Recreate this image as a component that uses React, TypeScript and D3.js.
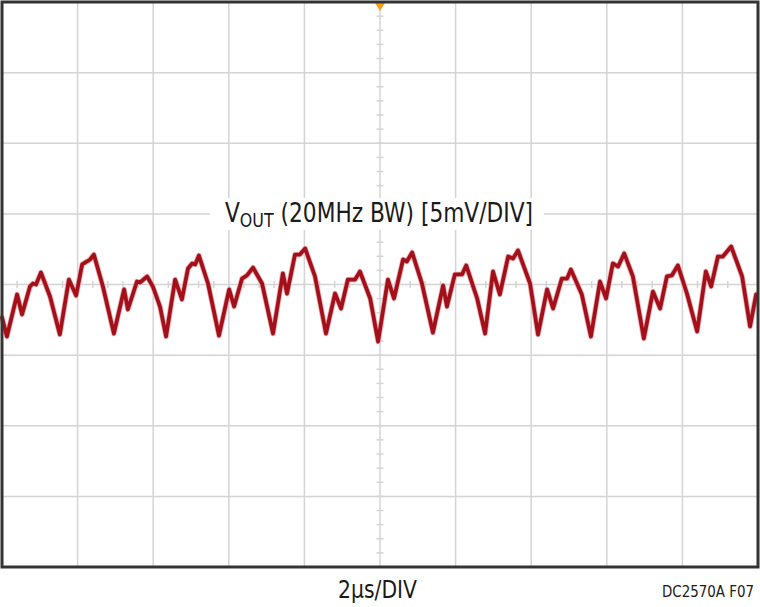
import React from "react";
import * as d3 from "d3";

// Time (µs, trigger at 0) and voltage (mV) readings of the VOUT ripple trace
const timeUs: number[] = [
  -10.0, -9.87, -9.6, -9.47, -9.26, -9.18, -9.1, -8.97, -8.73, -8.47, -8.23, -8.04, -7.88, -7.75, -7.67, -7.57,
  -7.33, -7.04, -6.77, -6.67, -6.43, -6.35, -6.16, -6.01, -5.82, -5.66, -5.42, -5.24, -5.08, -4.97, -4.89, -4.79,
  -4.55, -4.26, -3.99, -3.86, -3.65, -3.52, -3.36, -3.12, -2.83, -2.57, -2.46, -2.25, -2.12, -1.98, -1.72, -1.43,
  -1.19, -1.03, -0.85, -0.66, -0.53, -0.26, -0.05, 0.21, 0.37, 0.61, 0.71, 0.85, 1.11, 1.4, 1.67, 1.77,
  1.98, 2.17, 2.28, 2.57, 2.78, 2.99, 3.17, 3.39, 3.52, 3.65, 3.97, 4.18, 4.42, 4.58, 4.81, 4.95,
  5.05, 5.34, 5.58, 5.82, 5.98, 6.16, 6.3, 6.46, 6.69, 6.98, 7.22, 7.41, 7.59, 7.72, 7.88, 8.12,
  8.39, 8.62, 8.76, 8.94, 9.07, 9.29, 9.58, 9.79, 9.95,
];
const voutMv: number[] = [
  -2.34, -3.68, -0.71, -2.12, -0.14, 0.07, 0.0, 0.85, -0.85, -3.54, 0.35, -0.78, 1.42, 1.63, 1.77, 2.12,
  -0.14, -3.47, -0.35, -1.77, 0.21, 0.14, 0.57, -0.14, -1.56, -3.68, 0.35, -1.06, 1.13, 1.49, 1.42, 2.05,
  0.07, -3.61, -0.35, -1.56, 0.42, 0.64, 1.2, 0.07, -3.47, 0.78, -0.64, 2.12, 2.12, 2.55, 0.57, -3.47,
  -0.64, -1.7, 0.35, 0.35, 0.92, -0.99, -4.04, 0.35, -0.99, 1.77, 1.63, 2.27, 0.07, -3.4, -0.07, -1.56,
  0.71, 0.71, 1.35, -0.99, -3.47, 0.92, -0.71, 1.98, 1.84, 2.41, 0.07, -3.54, -0.35, -1.7, 0.42, 0.42,
  1.06, -0.71, -3.68, 0.21, -0.99, 1.49, 1.27, 2.2, 0.57, -3.82, -0.5, -1.7, 0.57, 0.64, 1.35, -0.64,
  -3.33, 0.92, -0.14, 1.98, 1.98, 2.69, 0.57, -2.97, -0.71,
];

const xDivisions = 10;
const yDivisions = 8;
const usPerDiv = 2;
const mvPerDiv = 5;
const titleMain = "V";
const titleSub = "OUT";
const titleRest = " (20MHz BW) [5mV/DIV]";
const xLabel = "2µs/DIV";
const figLabel = "DC2570A F07";

const W = 760;
const H = 607;
const left = 2;
const right = 758;
const top = 2;
const bottom = 567;
const FONT = "'Liberation Sans Narrow', 'DejaVu Sans Condensed', 'Liberation Sans', sans-serif";

export default function App() {
  const x = d3
    .scaleLinear()
    .domain([(-xDivisions / 2) * usPerDiv, (xDivisions / 2) * usPerDiv])
    .range([left, right]);
  const y = d3
    .scaleLinear()
    .domain([(-yDivisions / 2) * mvPerDiv, (yDivisions / 2) * mvPerDiv])
    .range([bottom, top]);

  const xGrid = d3.range(1, xDivisions).map((i) => x(-(xDivisions / 2) * usPerDiv + i * usPerDiv));
  const yGrid = d3.range(1, yDivisions).map((i) => y(-(yDivisions / 2) * mvPerDiv + i * mvPerDiv));
  const xMinor = d3.range(1, xDivisions * 5).map((i) => x(-(xDivisions / 2) * usPerDiv + (i * usPerDiv) / 5));
  const yMinor = d3.range(1, yDivisions * 5).map((i) => y(-(yDivisions / 2) * mvPerDiv + (i * mvPerDiv) / 5));

  const data = timeUs.map((t, i) => [t, voutMv[i]] as [number, number]);
  const line = d3
    .line<[number, number]>()
    .x((d) => x(d[0]))
    .y((d) => y(d[1]));
  const path = line(data) || "";

  const cx = x(0);
  const cy = y(0);
  const gridColor = "#d4d4d4";

  return (
    <svg
      width={W}
      height={H}
      style={{ position: "absolute", left: 0, top: 0, background: "#fff" }}
      fontFamily={FONT}
    >
      <rect x={0} y={0} width={W} height={H} fill="#fff" />
      {xGrid.map((gx, i) => (
        <line key={"xg" + i} x1={gx} x2={gx} y1={top} y2={bottom} stroke={gridColor} strokeWidth={1.5} />
      ))}
      {yGrid.map((gy, i) => (
        <line key={"yg" + i} x1={left} x2={right} y1={gy} y2={gy} stroke={gridColor} strokeWidth={1.5} />
      ))}
      {yMinor.map((my, i) => (
        <line key={"ym" + i} x1={cx - 3.5} x2={cx + 3.5} y1={my} y2={my} stroke={gridColor} strokeWidth={1.5} />
      ))}
      {xMinor.map((mx, i) => (
        <line key={"xm" + i} x1={mx} x2={mx} y1={cy - 3.5} y2={cy + 3.5} stroke={gridColor} strokeWidth={1.5} />
      ))}
      <rect x={210} y={198} width={334} height={32} fill="#fff" />
      <text
        x={225}
        y={222}
        fontSize={26}
        fill="#1a1a1a"
        textLength={308}
        lengthAdjust="spacingAndGlyphs"
      >
        <tspan>{titleMain}</tspan>
        <tspan fontSize={19} dy={5}>{titleSub}</tspan>
        <tspan dy={-5}>{titleRest}</tspan>
      </text>
      <path d={path} fill="none" stroke="#e8b4b8" strokeWidth={5.5} strokeLinejoin="round" strokeLinecap="round" />
      <path d={path} fill="none" stroke="#a3101a" strokeWidth={3.8} strokeLinejoin="round" strokeLinecap="round" />
      <path d={`M${cx - 5},${top + 1} L${cx + 5},${top + 1} L${cx},${top + 9} Z`} fill="#f5a01a" />
      <rect
        x={left}
        y={top}
        width={right - left}
        height={bottom - top}
        fill="none"
        stroke="#333"
        strokeWidth={3}
      />
      <text x={338} y={598} fontSize={25} fill="#1a1a1a" textLength={79} lengthAdjust="spacingAndGlyphs">
        {xLabel}
      </text>
      <text x={662} y={597} fontSize={16} fill="#1a1a1a" textLength={92} lengthAdjust="spacingAndGlyphs">
        {figLabel}
      </text>
    </svg>
  );
}
